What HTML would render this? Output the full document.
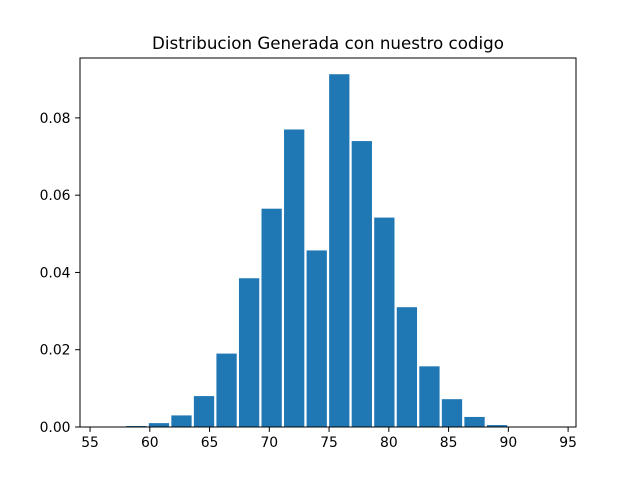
<!DOCTYPE html>
<html><head><meta charset="utf-8"><style>
body{margin:0;background:#fff;width:640px;height:480px;overflow:hidden}
text{font-family:"DejaVu Sans","Liberation Sans",sans-serif}
</style></head><body>
<svg id="chart" width="640" height="480" xmlns="http://www.w3.org/2000/svg">
<text x="328" y="49" font-size="16.7" text-anchor="middle">Distribucion Generada con nuestro codigo</text>
<g id="bars"></g>
<g id="axes"></g>
</svg>
<script>
const binStart = 56.05;
const binWidth = 1.886;
const densities = [0, 0.00026, 0.001, 0.003, 0.008, 0.019, 0.0385, 0.0565, 0.077, 0.0457, 0.0913, 0.074, 0.0542, 0.031, 0.0157, 0.0072, 0.0026, 0.0005, 0, 0];
const xTicks = [55, 60, 65, 70, 75, 80, 85, 90, 95];
const yTicks = [0, 0.02, 0.04, 0.06, 0.08];
const yTickLabels = ["0.00", "0.02", "0.04", "0.06", "0.08"];

const L=80,R=576,T=58,B=427;
const xmin=54.16,xmax=95.66,ymax=0.0955;
const X=v=>L+(v-xmin)/(xmax-xmin)*(R-L);
const Y=v=>B-v/ymax*(B-T);
const NS="http://www.w3.org/2000/svg";
function mk(tag,attrs,parent){const e=document.createElementNS(NS,tag);for(const k in attrs)e.setAttribute(k,attrs[k]);parent.appendChild(e);return e;}
const bars=document.getElementById('bars'),axes=document.getElementById('axes');
densities.forEach((d,i)=>{
  if(d<=0)return;
  const x0=binStart+i*binWidth+binWidth*0.05;
  const r=mk('rect',{x:X(x0),y:Y(d),width:X(x0+binWidth*0.9)-X(x0),height:B-Y(d),fill:'#1f77b4'},bars);
  
  
});
const frame=mk('rect',{x:L,y:T,width:R-L,height:B-T,fill:'none',stroke:'#000','stroke-width':1},axes);


xTicks.forEach(t=>{
  const x=X(t);
  mk('line',{x1:x,x2:x,y1:B,y2:B+4.9,stroke:'#000','stroke-width':1},axes);
  const tx=mk('text',{x:x,y:B+20,'font-size':13.9,'text-anchor':'middle'},axes);
  tx.textContent=t;
  
  
});
yTicks.forEach((t,i)=>{
  const y=Y(t);
  mk('line',{x1:L-4.9,x2:L,y1:y,y2:y,stroke:'#000','stroke-width':1},axes);
  const tx=mk('text',{x:L-9.5,y:y+5,'font-size':13.9,'text-anchor':'end'},axes);
  tx.textContent=yTickLabels[i];
  
  
});
</script>
</body></html>
